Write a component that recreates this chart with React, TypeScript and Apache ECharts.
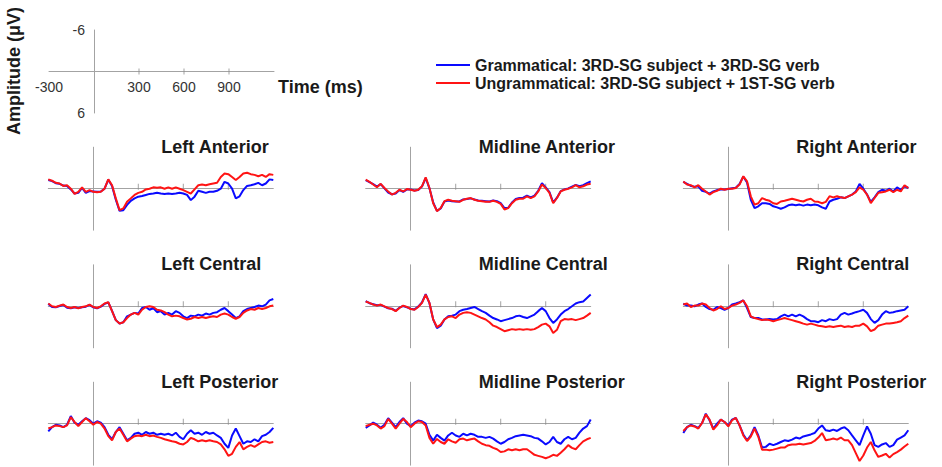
import React, { useEffect, useRef } from 'react';
import * as echarts from 'echarts';

const TIMES = [
  -300, -275, -250, -225, -200, -175, -150, -125, -100, -75, -50, -25,
  0, 25, 50, 75, 100, 125, 150, 175, 200, 225,
  250, 275, 300, 325, 350, 375, 400, 425, 450, 475,
  500, 525, 550, 575, 600, 625, 650, 675, 700, 725,
  750, 775, 800, 825, 850, 875, 900, 925, 950, 975,
  1000, 1025, 1050, 1075, 1100, 1125, 1150, 1175, 1200,
];

const LEGEND_G = 'Grammatical: 3RD-SG subject + 3RD-SG verb';
const LEGEND_U = 'Ungrammatical: 3RD-SG subject + 1ST-SG verb';

const PANEL_TITLES = [
  'Left Anterior', 'Midline Anterior', 'Right Anterior',
  'Left Central', 'Midline Central', 'Right Central',
  'Left Posterior', 'Midline Posterior', 'Right Posterior',
];

const KEY_X_LABELS = [-300, 300, 600, 900];
const KEY_Y_LABELS = [-6, 6];
const PANEL_TICKS = [300, 600, 900];

// Amplitudes in microvolts (negative plotted upward)
const LA_G = [-1.25, -1.1, -0.8, -0.7, -0.45, -0.4, 0.1, 0.7, 0.6, -0.1, 0.6, 0.35,
  0.4, 0.45, 0.4, 0, -1.3, -0.4, 1.6, 3.2, 3.1, 2.35,
  1.75, 1.4, 1.15, 1.05, 0.9, 0.75, 0.7, 0.6, 0.7, 0.75,
  0.7, 0.75, 0.7, 0.6, 0.7, 0.9, 1.65, 1.15, 0.3, 0.45,
  0.6, 0.45, 0.45, 0.3, 0, -1.0, -0.75, 0, 1.4, 1.1,
  0.2, -0.4, -0.5, -0.65, -0.85, -0.5, -0.75, -1.35, -1.25];
const LA_U = [-1.35, -1.15, -0.85, -0.75, -0.4, -0.5, 0, 0.75, 0.45, -0.2, 0.45, 0.2,
  0.45, 0.5, 0.45, 0, -1.35, -0.5, 1.4, 3.1, 2.85, 1.9,
  1.4, 0.9, 0.6, 0.45, 0.1, 0, -0.2, -0.15, -0.2, 0,
  -0.2, 0, -0.2, 0, 0.2, 0.45, 0.7, 0.1, -0.5, -0.6,
  -0.5, -0.65, -0.75, -0.85, -1.7, -2.2, -2.1, -1.7, -1.25, -1.7,
  -2.2, -2.3, -2.1, -2.0, -1.8, -2.0, -1.7, -2.1, -2.0];

const MA_G = [-1.25, -0.95, -0.65, -0.3, -0.65, -0.05, 0.55, 0.8, 0.7, 0.2, 0.45, 0.1,
  0.1, 0.25, 0.2, -0.3, -1.55, -0.05, 2.0, 3.2, 2.85, 1.85,
  1.7, 1.8, 1.85, 1.85, 1.55, 1.5, 1.4, 1.55, 1.7, 1.75,
  1.8, 1.85, 1.7, 1.8, 2.1, 2.8, 2.75, 2.0, 1.5, 1.35,
  1.3, 1.0, 1.25, 1.0, 0.3, -0.8, -0.2, 0.5, 2.0, 1.3,
  0.35, 0.1, -0.05, -0.3, -0.55, -0.35, -0.5, -0.8, -1.05];
const MA_U = [-1.3, -1.0, -0.6, -0.2, -0.7, -0.1, 0.4, 0.85, 0.6, 0.15, 0.4, 0.05,
  0.15, 0.3, 0.15, -0.35, -1.65, -0.1, 2.1, 3.25, 2.8, 1.8,
  1.6, 1.75, 1.8, 1.9, 1.6, 1.45, 1.35, 1.6, 1.75, 1.8,
  1.9, 1.9, 1.75, 1.9, 2.2, 3.0, 2.8, 2.1, 1.6, 1.45,
  1.45, 1.1, 1.35, 1.1, 0.4, -0.6, -0.1, 0.6, 2.1, 1.35,
  0.4, 0.15, 0, -0.2, -0.5, -0.2, -0.35, -0.6, -0.7];

const RA_G = [-1.0, -0.7, -0.4, -0.3, -0.35, 0.3, 0.45, 0.7, 0.4, 0.2, 0.1, 0.1,
  0.05, -0.05, -0.15, -0.7, -1.75, -0.9, 1.6, 2.8, 2.55, 2.1,
  2.1, 2.2, 2.55, 2.7, 2.9, 2.7, 2.4, 2.3, 2.4, 2.3,
  2.45, 2.3, 2.4, 2.3, 2.4, 2.7, 2.9, 1.85, 1.6, 1.45,
  1.25, 1.35, 1.1, 0.85, 0.4, -0.7, 0, 0.85, 1.9, 1.25,
  0.5, 0.15, 0.3, 0, 0.4, -0.2, 0.15, -0.35, -0.1];
const RA_U = [-1.05, -0.6, -0.5, -0.2, -0.5, 0, 0.4, 0.85, 0.5, 0.3, 0, 0.15,
  0, 0, -0.1, -0.6, -1.8, -1.05, 1.1, 2.3, 2.1, 1.35,
  1.6, 1.75, 2.1, 2.2, 1.85, 1.75, 1.6, 1.45, 1.6, 1.75,
  1.85, 1.6, 1.45, 1.85, 1.9, 2.1, 1.9, 1.1, 1.25, 1.1,
  1.25, 1.35, 1.1, 0.85, 0.5, -0.2, 0.15, 0.85, 2.1, 1.35,
  0.6, 0.5, 0.4, 0.15, 0.5, 0.15, 0.4, -0.5, -0.1];

const LC_G = [-0.35, 0.1, 0.15, -0.05, -0.2, 0.2, 0.3, 0.15, 0.25, 0.15, 0.05, -0.2,
  0.15, 0.3, 0.05, -0.35, -0.55, 0.65, 2.0, 2.5, 2.3, 1.45,
  1.2, 0.95, 1.05, 0.25, 0.1, 0.5, 0.25, 0.85, 0.7, 1.2,
  0.95, 1.2, 0.7, 0.95, 1.45, 1.7, 1.35, 1.45, 1.2, 1.35,
  1.05, 1.2, 0.95, 0.85, 0.5, 0.25, 0.7, 1.2, 1.7, 1.45,
  0.7, 0.4, 0.25, 0.1, -0.1, 0, -0.25, -0.85, -1.05];
const LC_U = [-0.4, 0, 0.1, -0.1, -0.25, 0.1, 0.25, 0.1, 0.3, 0.1, 0, -0.25,
  0.1, 0.25, 0, -0.4, -0.6, 0.7, 2.0, 2.5, 2.3, 1.7,
  1.2, 0.95, 1.2, 0.5, 0.1, 0, 0.1, 0.5, 0.6, 0.85,
  1.2, 1.45, 1.35, 1.45, 1.7, 1.9, 1.8, 1.55, 1.7, 1.55,
  1.7, 1.55, 1.45, 1.55, 1.2, 1.05, 1.2, 1.55, 1.8, 1.55,
  0.95, 0.6, 0.4, 0.5, 0.25, 0.4, 0.25, 0, -0.1];

const MC_G = [-0.75, -0.45, -0.3, -0.15, -0.2, 0.05, 0.3, 0.35, 0.65, 0.2, -0.05, 0.15,
  0.35, 0.45, 0.05, -0.55, -1.75, -0.45, 1.9, 3.15, 2.8, 1.9,
  1.45, 1.35, 1.2, 0.7, 0.5, 0.4, 0.25, 0.1, 0.4, 0.7,
  0.95, 1.35, 1.7, 1.9, 2.15, 2.0, 1.85, 1.7, 1.45, 1.35,
  1.55, 1.7, 1.45, 1.2, 0.7, 0.25, 0.7, 1.7, 2.4, 1.9,
  1.2, 0.7, 0.4, 0, -0.4, -0.6, -0.7, -1.2, -1.7];
const MC_U = [-0.7, -0.5, -0.25, -0.1, -0.25, 0, 0.25, 0.4, 0.7, 0.25, -0.1, 0.1,
  0.4, 0.5, 0.1, -0.5, -1.7, -0.5, 1.9, 3.0, 2.65, 1.9,
  1.55, 1.45, 1.7, 1.2, 0.95, 0.85, 0.95, 1.2, 1.45, 1.7,
  1.9, 2.3, 2.8, 3.0, 3.3, 3.6, 3.45, 3.3, 3.4, 3.3,
  3.4, 3.3, 3.4, 3.3, 3.0, 2.65, 2.5, 2.9, 3.85, 3.4,
  2.15, 1.85, 1.9, 1.85, 2.0, 1.85, 1.7, 1.35, 0.95];

const RC_G = [-0.4, -0.1, -0.1, 0, -0.25, -0.4, 0.1, 0.4, 0.5, 0.1, 0.25, 0.5,
  0.25, -0.25, -0.4, -0.6, -0.85, 0.25, 1.55, 1.7, 1.7, 1.9,
  1.9, 1.85, 1.9, 1.85, 1.45, 1.2, 1.45, 1.2, 1.45, 1.2,
  1.45, 1.85, 2.15, 2.15, 2.3, 2.0, 2.15, 1.85, 2.0, 1.85,
  1.2, 0.95, 1.2, 1.05, 0.85, 0.7, 0.5, 0.95, 1.85, 2.4,
  2.0, 1.2, 0.7, 0.95, 0.85, 0.7, 0.6, 0.5, 0];
const RC_U = [-0.25, -0.4, 0.1, -0.1, -0.1, -0.4, -0.25, 0.25, 0.6, 0.4, 0, 0.4,
  0.25, -0.1, -0.25, -0.5, -0.85, 0, 1.45, 1.7, 1.85, 2.0,
  1.9, 2.0, 2.15, 2.0, 1.85, 1.7, 1.85, 2.0, 2.15, 2.3,
  2.5, 2.65, 2.5, 2.65, 2.8, 2.9, 3.0, 2.9, 3.0, 2.9,
  2.8, 3.0, 2.9, 3.0, 2.8, 2.8, 2.5, 2.9, 3.6, 3.35,
  2.8, 2.65, 2.5, 2.5, 2.4, 2.3, 2.15, 1.7, 1.35];

const LP_G = [1.1, 0.5, 0.15, 0.25, 0.5, 0.15, -1.1, -0.15, 0.15, -0.35, -0.8, -0.5,
  0, -0.35, -0.15, 0.5, 1.6, 2.25, 1.2, 0.5, 1.45, 2.4,
  2.05, 1.45, 1.3, 1.6, 1.2, 1.45, 1.3, 1.6, 1.45, 1.6,
  1.45, 1.7, 1.3, 1.9, 2.25, 1.45, 0.95, 1.45, 1.3, 1.6,
  1.2, 1.45, 1.3, 1.7, 2.05, 2.9, 3.5, 1.7, 0.7, 1.8,
  2.9, 2.55, 2.65, 2.25, 2.55, 1.8, 1.6, 1.2, 0.6];
const LP_U = [0.7, 0.5, 0.25, 0.35, 0.5, 0.25, -0.95, -0.25, 0.35, -0.25, -0.8, -0.35,
  0.15, -0.25, 0, 0.7, 1.8, 2.4, 1.2, 0.7, 1.6, 2.55,
  2.15, 1.8, 1.7, 1.8, 1.6, 1.8, 1.7, 1.9, 2.05, 2.25,
  2.4, 2.55, 2.65, 2.9, 3.0, 2.65, 2.05, 2.25, 2.55, 2.4,
  2.55, 2.4, 2.55, 2.65, 3.0, 3.7, 4.65, 4.35, 3.35, 2.65,
  3.7, 3.35, 3.1, 3.35, 3.0, 2.65, 2.55, 2.75, 2.65];

const MP_G = [0.6, 0.25, -0.15, 0.15, 0.6, 0.15, -0.8, -0.15, 0.5, -0.25, -0.8, 0,
  0.35, -0.15, -0.45, -0.35, 0, 1.6, 2.45, 1.6, 2.05, 2.45,
  1.7, 1.3, 1.7, 1.9, 1.45, 1.7, 1.45, 1.6, 1.9, 1.9,
  2.05, 1.9, 2.15, 2.55, 2.9, 2.65, 2.25, 2.05, 1.8, 1.7,
  1.6, 1.7, 1.8, 2.05, 2.15, 2.55, 3.0, 2.65, 1.9, 2.65,
  2.9, 2.25, 1.9, 2.25, 2.05, 1.3, 0.7, 0.35, -0.6];
const MP_U = [0.35, 0.15, 0, 0.25, 0.7, 0.35, -0.7, 0, 0.7, 0, -0.7, -0.25,
  0.5, 0, -0.35, -0.25, 0.25, 2.05, 2.9, 2.2, 2.65, 2.9,
  2.25, 2.55, 2.75, 2.25, 2.15, 2.4, 2.25, 2.15, 2.55, 2.9,
  3.1, 3.2, 3.5, 3.7, 4.1, 4.0, 3.7, 3.85, 3.7, 3.85,
  3.7, 3.7, 4.1, 4.5, 4.65, 4.8, 5.0, 4.8, 4.5, 4.65,
  4.2, 3.7, 3.1, 3.5, 3.7, 3.1, 2.55, 2.25, 2.05];

const RP_G = [1.35, 0.5, 0.15, 0.35, 0.6, -0.1, -1.45, -0.5, 0.7, 0, -0.6, -0.25,
  0.25, -0.6, -0.85, 0.25, 1.55, 2.4, 1.7, 0.5, 1.7, 3.45,
  3.35, 2.9, 3.1, 2.9, 2.65, 2.4, 2.5, 2.3, 2.0, 2.15,
  1.85, 1.7, 1.55, 1.35, 0.7, 0.25, 0.95, 1.05, 0.85, 1.05,
  0.7, 0.5, 0.95, 1.7, 2.4, 3.1, 1.7, 0.4, 1.45, 3.1,
  3.35, 3.0, 2.8, 3.35, 3.1, 2.3, 2.0, 1.7, 0.95];
const RP_U = [1.05, 0.5, 0.25, 0.4, 0.7, -0.1, -1.35, -0.6, 0.85, 0.25, -0.6, -0.25,
  0.4, -0.5, -0.85, 0.25, 1.7, 2.5, 1.85, 0.7, 1.9, 3.75,
  3.75, 3.85, 3.75, 3.6, 3.45, 3.45, 3.1, 3.0, 3.0, 2.9,
  3.0, 2.9, 2.8, 2.5, 2.0, 1.35, 2.4, 2.3, 2.15, 2.3,
  2.0, 2.4, 2.4, 3.1, 4.25, 5.4, 4.6, 3.45, 2.65, 3.85,
  4.8, 4.6, 4.35, 4.9, 4.4, 4.1, 3.75, 3.3, 2.9];

const GRAMMATICAL = [LA_G, MA_G, RA_G, LC_G, MC_G, RC_G, LP_G, MP_G, RP_G];
const UNGRAMMATICAL = [LA_U, MA_U, RA_U, LC_U, MC_U, RC_U, LP_U, MP_U, RP_U];

const FONT = '"Liberation Sans", Arial, Helvetica, sans-serif';
const AXIS_COLOR = '#a3a3a3';
const TICK_COLOR = '#8c8c8c';
const BLUE = '#0a0aff';
const RED = '#ff1414';
const COL_X0 = [93.3, 410.7, 728.3];
const ROW_Y0 = [188.7, 306.3, 423.7];

function tickSeries(gi: number, offsetY: number) {
  return {
    type: 'scatter', xAxisIndex: gi, yAxisIndex: gi, silent: true,
    data: PANEL_TICKS.map((t) => [t, 0]),
    symbol: 'rect', symbolSize: [1, 6], symbolOffset: [0, offsetY],
    itemStyle: { color: TICK_COLOR }, z: 1,
  };
}

export default function App() {
  const ref = useRef<HTMLDivElement>(null);

  useEffect(() => {
    if (!ref.current) return;
    const chart = echarts.init(ref.current, null, { renderer: 'svg' });

    const grid: any[] = [];
    const xAxis: any[] = [];
    const yAxis: any[] = [];
    const series: any[] = [];
    const graphic: any[] = [];

    // Scale key (labels pulled in next to the zero lines)
    grid.push({ left: 49, top: 30, width: 225, height: 83 });
    xAxis.push({
      gridIndex: 0, type: 'value', min: -300, max: 1200, interval: 300,
      axisLine: { show: true, onZero: true, lineStyle: { color: AXIS_COLOR, width: 1 } },
      axisTick: { show: false },
      axisLabel: { show: true, customValues: KEY_X_LABELS, fontSize: 14, color: '#333', fontFamily: FONT, margin: -33 },
      splitLine: { show: false },
    });
    yAxis.push({
      gridIndex: 0, type: 'value', inverse: true, min: -6, max: 6, interval: 6,
      axisLine: { show: true, onZero: true, lineStyle: { color: AXIS_COLOR, width: 1 } },
      axisTick: { show: false },
      axisLabel: { show: true, customValues: KEY_Y_LABELS, fontSize: 14, color: '#333', fontFamily: FONT, margin: -36 },
      splitLine: { show: false },
    });
    series.push(tickSeries(0, 0));

    PANEL_TITLES.forEach((title, i) => {
      const col = i % 3;
      const row = Math.floor(i / 3);
      const x0 = COL_X0[col];
      const y0 = ROW_Y0[row];
      const gi = i + 1;
      grid.push({ left: x0 - 45, top: y0 - 41.5, width: 225, height: 83 });
      xAxis.push({
        gridIndex: gi, type: 'value', min: -300, max: 1200, interval: 300,
        axisLine: { show: true, onZero: true, lineStyle: { color: AXIS_COLOR, width: 1 } },
        axisTick: { show: false },
        axisLabel: { show: false },
        splitLine: { show: false },
      });
      yAxis.push({
        gridIndex: gi, type: 'value', inverse: true, min: -6, max: 6, interval: 6,
        axisLine: { show: true, onZero: true, lineStyle: { color: AXIS_COLOR, width: 1 } },
        axisTick: { show: false },
        axisLabel: { show: false },
        splitLine: { show: false },
      });
      series.push(tickSeries(gi, -2));
      series.push({
        type: 'line', name: LEGEND_G, xAxisIndex: gi, yAxisIndex: gi,
        data: TIMES.map((t, k) => [t, GRAMMATICAL[i][k]]),
        symbol: 'none', showSymbol: false, smooth: false, z: 2,
        lineStyle: { color: BLUE, width: 2 }, itemStyle: { color: BLUE },
      });
      series.push({
        type: 'line', name: LEGEND_U, xAxisIndex: gi, yAxisIndex: gi,
        data: TIMES.map((t, k) => [t, UNGRAMMATICAL[i][k]]),
        symbol: 'none', showSymbol: false, smooth: false, z: 3,
        lineStyle: { color: RED, width: 2 }, itemStyle: { color: RED },
      });
      graphic.push({
        type: 'text', x: x0 + 68, y: y0 - 42,
        style: { text: title, font: `bold 18px ${FONT}`, fill: '#1a1a1a', textAlign: 'left', textVerticalAlign: 'middle' },
      });
    });

    graphic.push({
      type: 'text', x: 278, y: 87,
      style: { text: 'Time (ms)', font: `bold 18px ${FONT}`, fill: '#1a1a1a', textAlign: 'left', textVerticalAlign: 'middle' },
    });
    graphic.push({
      type: 'text', x: 14, y: 71, rotation: Math.PI / 2,
      style: { text: 'Amplitude (μV)', font: `bold 18px ${FONT}`, fill: '#1a1a1a', textAlign: 'center', textVerticalAlign: 'middle' },
    });

    chart.setOption({
      animation: false,
      backgroundColor: '#ffffff',
      grid,
      xAxis,
      yAxis,
      series,
      graphic,
      legend: {
        data: [
          { name: LEGEND_G, icon: 'rect', itemStyle: { color: BLUE } },
          { name: LEGEND_U, icon: 'rect', itemStyle: { color: RED } },
        ],
        orient: 'vertical',
        left: 431,
        top: 52,
        itemWidth: 34,
        itemHeight: 2,
        itemGap: 2,
        selectedMode: false,
        textStyle: { fontFamily: FONT, fontWeight: 'bold', fontSize: 16, color: '#1a1a1a' },
      },
    });

    return () => chart.dispose();
  }, []);

  return <div ref={ref} style={{ position: 'fixed', left: 0, top: 0, width: 942, height: 467 }} />;
}
